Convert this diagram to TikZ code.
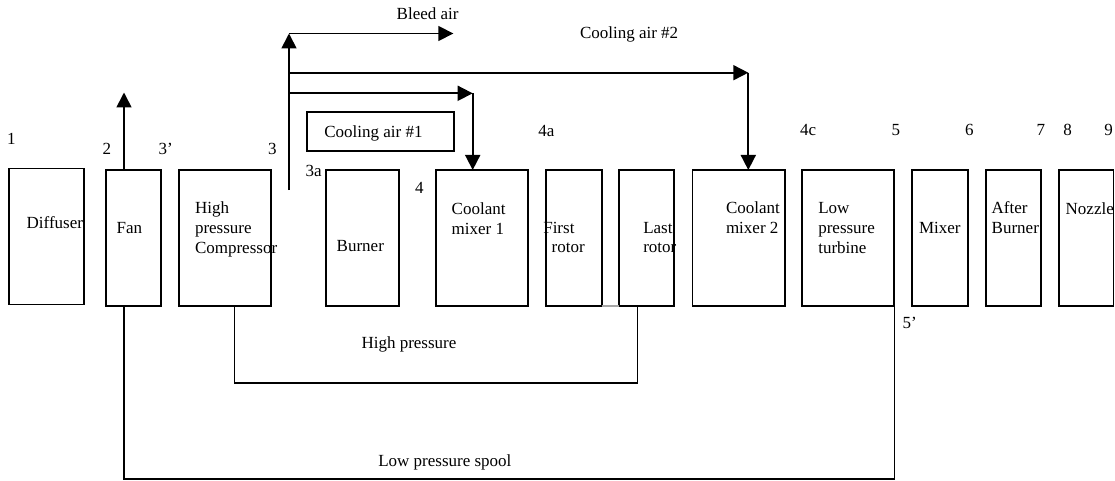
\documentclass[tikz,border=0pt]{standalone}
\usepackage{fontspec}
\setmainfont{Liberation Serif}
\usetikzlibrary{arrows.meta}
\begin{document}
\begin{tikzpicture}[x=1pt,y=-1pt,
  blk/.style={draw,line width=1.7pt,inner sep=0pt,outer sep=0pt,anchor=north west,minimum height=135.7pt},
  lbl/.style={anchor=base west,inner sep=0pt,outer sep=0pt,font=\fontsize{17}{20}\selectfont},
  ln/.style={line width=1.6pt},
  arr/.style={line width=1.7pt,-{Triangle[length=15pt,width=15pt]}}]
\useasboundingbox (0,0) rectangle (1115,481);
% boxes
\node[blk,minimum width=75pt,minimum height=136pt] (diff) at (9.3,168.5) {};
\node[blk,minimum width=55.3pt] (fan) at (105.7,170) {};
\node[blk,minimum width=91.7pt] (hpc) at (179.3,170) {};
\node[blk,minimum width=73.6pt] (burn) at (325.7,170) {};
\node[blk,minimum width=92pt] (cm1) at (435.7,170) {};
\node[blk,minimum width=56pt] (fr) at (545.7,170) {};
\node[blk,minimum width=55pt] (lr) at (619.3,170) {};
\node[blk,minimum width=92.5pt] (cm2) at (692.5,170) {};
\node[blk,minimum width=92pt] (lpt) at (802.3,170) {};
\node[blk,minimum width=56pt] (mix) at (912.3,170) {};
\node[blk,minimum width=55pt] (ab) at (986,170) {};
\node[blk,minimum width=54.2pt] (noz) at (1059.3,170) {};
\node[blk,minimum width=147pt,minimum height=39pt] (ca1) at (307.3,111.7) {};
% box texts
\node[lbl] (tdiff) at (26.7,228) {Diffuser};
\node[lbl] (tfan) at (116.7,233) {Fan};
\node[lbl] (thpc1) at (195,213.3) {High};
\node[lbl] (thpc2) at (195,233.3) {pressure};
\node[lbl] (thpc3) at (195,253.3) {Compressor};
\node[lbl] (tburn) at (336.7,251.7) {Burner};
\node[lbl] (tcm11) at (451.7,214) {Coolant};
\node[lbl] (tcm12) at (451.7,234) {mixer 1};
\node[lbl] (tfr1) at (543.3,233.3) {First};
\node[lbl] (tfr2) at (551.7,252.7) {rotor};
\node[lbl] (tlr1) at (643.3,233.3) {Last};
\node[lbl] (tlr2) at (643.3,252.7) {rotor};
\node[lbl] (tcm21) at (726,213.3) {Coolant};
\node[lbl] (tcm22) at (726,233.3) {mixer 2};
\node[lbl] (tlpt1) at (818.3,213.3) {Low};
\node[lbl] (tlpt2) at (818.3,233.3) {pressure};
\node[lbl] (tlpt3) at (818.3,253.3) {turbine};
\node[lbl] (tmix) at (919,233.3) {Mixer};
\node[lbl] (tab1) at (991.7,213.3) {After};
\node[lbl] (tab2) at (991.7,233.3) {Burner};
\node[lbl] (tnoz) at (1065.7,214.3) {Nozzle};
\node[lbl] (tca1) at (324.3,137.5) {Cooling air \#1};
% station numbers
\node[lbl] (s1) at (7,145) {1};
\node[lbl] (s2) at (102.5,155) {2};
\node[lbl] (s3p) at (158.5,155) {3’};
\node[lbl] (s3) at (268,155) {3};
\node[lbl] (s3a) at (305.7,176.5) {3a};
\node[lbl] (s4) at (415,193.3) {4};
\node[lbl] (s4a) at (538.3,136.5) {4a};
\node[lbl] (s4c) at (800,135.7) {4c};
\node[lbl] (s5) at (891.7,135.7) {5};
\node[lbl] (s6) at (965,135.7) {6};
\node[lbl] (s7) at (1036.7,135.7) {7};
\node[lbl] (s8) at (1063.3,135.7) {8};
\node[lbl] (s9) at (1104.3,135.7) {9};
\node[lbl] (s5p) at (902.7,328.3) {5’};
% flow labels
\node[lbl] (tbleed) at (396.7,20) {Bleed air};
\node[lbl] (tca2) at (580,38.5) {Cooling air \#2};
\node[lbl] (thp) at (361.5,348) {High pressure};
\node[lbl] (tlp) at (378.3,466.7) {Low pressure spool};
% coordinates
\coordinate (fantop) at (124,92.5);
\coordinate (bl0) at (289,190);
\coordinate (bltop) at (289,33.5);
\coordinate (bleedend) at (453.3,33.5);
\coordinate (c1) at (472.7,93.3);
\coordinate (c2) at (748.3,72.7);
\coordinate (lpb) at (124,479.2);
\coordinate (hpb) at (234.3,382.7);
\coordinate (hpr) at (637.3,382.7);
% connectors
\draw[arr] (fan.north -| fantop) -- (fantop);
\draw[arr] (bl0) -- (bltop);
\draw[arr] (bltop) -- (bleedend);
\draw[arr] (bl0 |- c2) -- (c2);
\draw[arr] (c2) -- (c2 |- cm2.north);
\draw[arr] (bl0 |- c1) -- (c1);
\draw[arr] (c1) -- (c1 |- cm1.north);
\draw[ln] (fan.south -| lpb) -- (lpb) -| (lpt.south east);
\draw[ln] (hpc.south -| hpb) -- (hpb) -- (hpr) -- (hpr |- lr.south);
\draw[line width=1.6pt,black!35] (fr.south east) -- (lr.south west);
\end{tikzpicture}
\end{document}
